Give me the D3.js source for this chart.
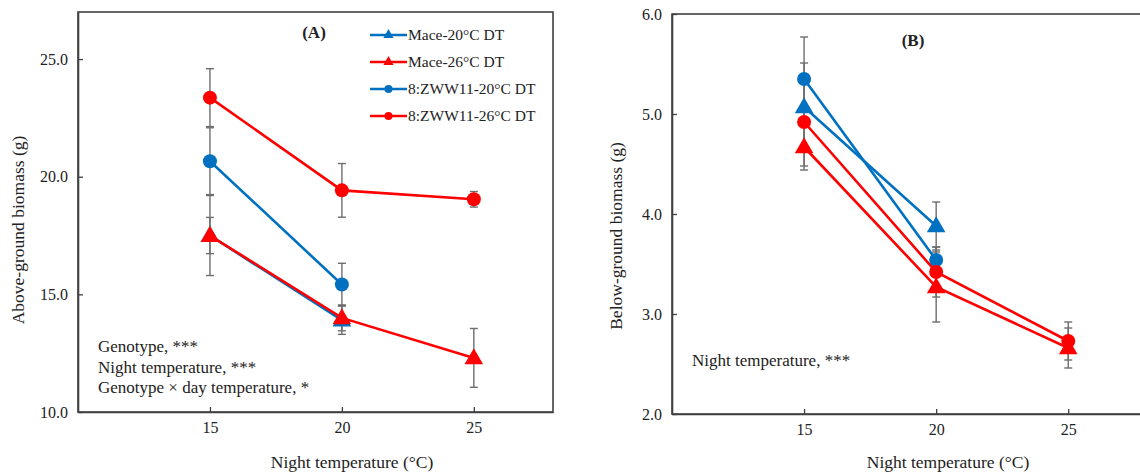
<!DOCTYPE html>
<html lang="en">
<head>
<meta charset="utf-8">
<title>Biomass vs night temperature</title>
<script src="https://cdn.jsdelivr.net/npm/d3@7"></script>
<style>
  html, body { margin: 0; padding: 0; background: #fff; }
  svg { display: block; font-family: "Liberation Serif", "Times New Roman", serif; }
</style>
</head>
<body>
<div id="chart"></div>
<script>
// --- data ---
var nightTemps = [15, 20, 25];
var seriesNames = ["Mace-20°C DT", "Mace-26°C DT", "8:ZWW11-20°C DT", "8:ZWW11-26°C DT"];

// (A) above-ground biomass (g), mean and error
var aboveMace20 = [17.5, 13.9, null];
var aboveMace20Err = [1.7, 0.6, null];
var aboveMace26 = [17.5, 14.0, 12.3];
var aboveMace26Err = [0.77, 0.55, 1.25];
var aboveZww20 = [20.66, 15.42, null];
var aboveZww20Err = [1.42, 0.9, null];
var aboveZww26 = [23.36, 19.42, 19.04];
var aboveZww26Err = [1.23, 1.14, 0.33];

// (B) below-ground biomass (g)
var belowMace20 = [5.07, 3.88, null];
var belowMace20Err = [0.44, 0.24, null];
var belowMace26 = [4.67, 3.27, 2.66];
var belowMace26Err = [0.23, 0.35, 0.2];
var belowZww20 = [5.35, 3.54, null];
var belowZww20Err = [0.42, 0.13, null];
var belowZww26 = [4.92, 3.42, 2.73];
var belowZww26Err = [0.44, 0.25, 0.19];

var aboveTicks = [10, 15, 20, 25];
var belowTicks = [2, 3, 4, 5, 6];

// --- styles ---
var blue = "#0070C0", red = "#FF0000", errColor = "#6e6e6e", frameColor = "#404040";
var seriesColor = [blue, red, blue, red];
var seriesShape = ["tri", "tri", "circle", "circle"];

var W = 1140, H = 473;
var svg = d3.select("#chart").append("svg")
    .attr("width", W).attr("height", H);
svg.append("rect").attr("width", W).attr("height", H).attr("fill", "#fff");

var triSym = d3.symbol().type(d3.symbolTriangle).size(150);
var triSmall = d3.symbol().type(d3.symbolTriangle).size(45);

function drawPanel(p) {
    var x = d3.scaleLinear().domain([10, 28]).range(p.xr);
    var y = d3.scaleLinear().domain(p.yd).range(p.yr);
    var g = svg.append("g");

    // frame
    g.append("rect")
        .attr("x", p.xr[0]).attr("y", p.yr[1])
        .attr("width", p.xr[1] - p.xr[0]).attr("height", p.yr[0] - p.yr[1])
        .attr("fill", "none").attr("stroke", frameColor).attr("stroke-width", 1.6);

    // axes
    var xAxis = d3.axisBottom(x).tickValues(nightTemps).tickSizeInner(-5).tickSizeOuter(0).tickPadding(10);
    var yAxis = d3.axisLeft(y).tickValues(p.ticks).tickFormat(d3.format(".1f"))
        .tickSizeInner(-5).tickSizeOuter(0).tickPadding(10);
    var gx = g.append("g").attr("transform", "translate(0," + p.yr[0] + ")").call(xAxis);
    var gy = g.append("g").attr("transform", "translate(" + p.xr[0] + ",0)").call(yAxis);
    [gx, gy].forEach(function(a) {
        a.select(".domain").attr("stroke", frameColor).attr("stroke-width", 1.6);
        a.selectAll(".tick line").attr("stroke", frameColor).attr("stroke-width", 1.3);
        a.selectAll(".tick text").attr("fill", "#222").style("font-size", "16px")
            .style("font-family", "Liberation Serif, Times New Roman, serif");
    });

    // error bars
    p.means.forEach(function(m, si) {
        m.forEach(function(v, i) {
            if (v == null) return;
            var e = p.errs[si][i], cx = x(nightTemps[i]);
            var eg = g.append("g").attr("stroke", errColor).attr("stroke-width", 1.4);
            eg.append("line").attr("x1", cx).attr("x2", cx).attr("y1", y(v - e)).attr("y2", y(v + e));
            [v - e, v + e].forEach(function(t) {
                eg.append("line").attr("x1", cx - 4).attr("x2", cx + 4).attr("y1", y(t)).attr("y2", y(t));
            });
        });
    });

    // lines + markers
    var line = d3.line().defined(function(d) { return d[1] != null; })
        .x(function(d) { return x(d[0]); }).y(function(d) { return y(d[1]); });
    p.means.forEach(function(m, si) {
        var pts = nightTemps.map(function(t, i) { return [t, m[i]]; });
        g.append("path").datum(pts).attr("d", line)
            .attr("fill", "none").attr("stroke", seriesColor[si]).attr("stroke-width", 2.6);
        var mk = g.append("g").attr("fill", seriesColor[si]);
        pts.filter(function(d) { return d[1] != null; }).forEach(function(d) {
            if (seriesShape[si] === "circle") {
                mk.append("circle").attr("cx", x(d[0])).attr("cy", y(d[1])).attr("r", 7);
            } else {
                mk.append("path").attr("d", triSym)
                    .attr("transform", "translate(" + x(d[0]) + "," + (y(d[1]) + 1) + ")");
            }
        });
    });

    // axis titles
    g.append("text")
        .attr("transform", "translate(" + p.ylabX + "," + p.ylabY + ") rotate(-90)")
        .attr("text-anchor", "middle").attr("fill", "#222").style("font-size", "17.5px")
        .text(p.ylab);
    g.append("text").attr("x", p.xlabX).attr("y", 468)
        .attr("text-anchor", "middle").attr("fill", "#222").style("font-size", "17.5px")
        .text("Night temperature (°C)");

    // panel letter
    g.append("text").attr("x", p.letter[0]).attr("y", p.letter[1])
        .attr("text-anchor", "middle").attr("font-weight", "bold").attr("fill", "#222")
        .style("font-size", "17px").text(p.letter[2]);

    // significance notes
    p.notes.forEach(function(n, i) {
        g.append("text").attr("x", p.noteXY[0]).attr("y", p.noteXY[1] + i * 20.5)
            .attr("fill", "#222").style("font-size", "17px").text(n);
    });
    return { x: x, y: y, g: g };
}

drawPanel({
    xr: [78, 553], yr: [412, 12], yd: [10, 27], ticks: aboveTicks,
    means: [aboveMace20, aboveMace26, aboveZww20, aboveZww26],
    errs: [aboveMace20Err, aboveMace26Err, aboveZww20Err, aboveZww26Err],
    ylab: "Above-ground biomass (g)", ylabX: 24, ylabY: 230, xlabX: 352,
    letter: [314, 38, "(A)"],
    notes: ["Genotype, ***", "Night temperature, ***", "Genotype × day temperature, *"],
    noteXY: [98, 352]
});

drawPanel({
    xr: [672, 1147.5], yr: [414, 14], yd: [2, 6], ticks: belowTicks,
    means: [belowMace20, belowMace26, belowZww20, belowZww26],
    errs: [belowMace20Err, belowMace26Err, belowZww20Err, belowZww26Err],
    ylab: "Below-ground biomass (g)", ylabX: 622, ylabY: 236, xlabX: 948,
    letter: [913, 46, "(B)"],
    notes: ["Night temperature, ***"],
    noteXY: [692, 366]
});

// legend in panel A
var legend = svg.append("g").attr("transform", "translate(370,35)");
seriesNames.forEach(function(name, i) {
    var row = legend.append("g").attr("transform", "translate(0," + (i * 27) + ")");
    row.append("line").attr("x1", 0).attr("x2", 37).attr("y1", 0).attr("y2", 0)
        .attr("stroke", seriesColor[i]).attr("stroke-width", 2.6);
    if (seriesShape[i] === "circle") {
        row.append("circle").attr("cx", 18.5).attr("cy", 0).attr("r", 4).attr("fill", seriesColor[i]);
    } else {
        row.append("path").attr("d", triSmall).attr("transform", "translate(18.5,0)").attr("fill", seriesColor[i]);
    }
    row.append("text").attr("x", 38).attr("y", 0).attr("dy", "0.35em")
        .attr("fill", "#222").style("font-size", "15.5px").text(name);
});
</script>
</body>
</html>
